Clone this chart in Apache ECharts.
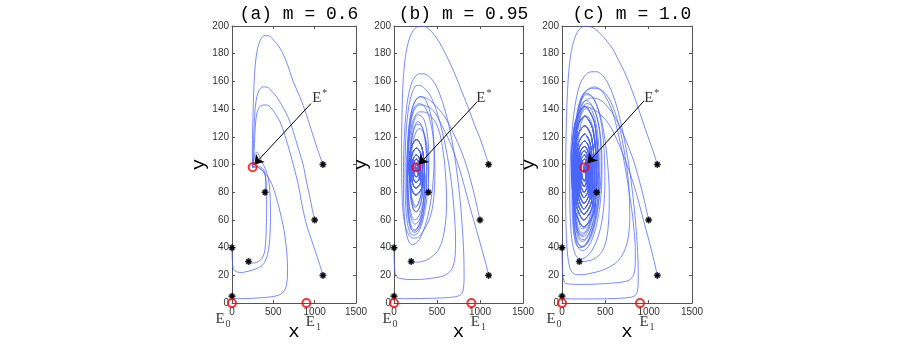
<!DOCTYPE html>
<html>
<head>
<meta charset="utf-8">
<script src="https://cdn.jsdelivr.net/npm/echarts@6/dist/echarts.min.js"></script>
<style>
  html, body { margin: 0; padding: 0; background: #fff; }
  #chart { width: 900px; height: 346px; }
</style>
</head>
<body>
<div id="chart"></div>
<script>
// panel titles
const titles = ['(a) m = 0.6', '(b) m = 0.95', '(c) m = 1.0'];

// initial conditions (black stars)
const starts = [[1100, 100], [1000, 60], [1100, 20], [400, 80], [200, 30], [0, 40], [0, 5]];

// equilibria
const eStar = [[250, 98], [258, 98], [258, 98]];
const e0 = [0, 0];
const e1 = [900, 0];

// ---- (a) m = 0.6 ----
const a1 = [[1100,100],[1040,110],[980,121],[900,136],[820,149],[740,160],[660,174],[580,184],[500,190],[440,193],[390,193],[345,190],[310,184],[285,174],[268,160],[258,143],[250,125],[246,110],[248,101],[250,98]];
const a2 = [[1000,60],[970,68],[940,77],[900,88],[860,100],[800,112],[740,124],[680,134],[620,141],[550,148],[480,153],[420,156],[370,156],[330,154],[300,149],[280,140],[268,128],[260,115],[254,105],[250,98]];
const a3 = [[1100,20],[1060,28],[1010,37],[960,46],[900,57],[850,70],[800,86],[750,98],[700,109],[640,121],[580,131],[520,137],[470,141],[420,143],[380,143],[340,142],[305,138],[285,130],[275,120],[268,110],[260,102],[250,98]];
const a4 = [[400,80],[410,86],[405,92],[385,96],[350,98],[310,99],[280,99],[250,98]];
const a5 = [[200,30],[230,29],[270,29],[320,30],[360,32],[390,36],[405,42],[414,52],[418,64],[419,75],[416,84],[405,91],[380,95],[340,97],[300,98],[270,98],[250,98]];
const a6 = [[0,40],[2,34],[6,29],[15,25],[30,23.5],[60,22.5],[100,22],[160,22.5],[230,23.5],[300,25],[360,27],[400,30],[430,35],[450,42],[462,52],[466,62],[464,72],[456,82],[440,90],[410,96],[370,101],[330,106],[300,109],[280,108],[265,104],[255,100],[250,98]];
const a7 = [[0,5],[8,3.8],[40,3.3],[120,3.2],[250,3.5],[380,4],[480,4.6],[560,5.6],[615,7.5],[650,11],[668,17],[672,25],[666,34],[650,44],[628,53],[600,61],[568,69],[532,77],[495,84],[455,89],[410,93],[360,96],[320,98],[285,99],[262,98.5],[250,98]];

// ---- (b) m = 0.95 ----
const spiralB = [
  [353,96],[326,112],[262,118],[198,112],[175,98],[198,84],[250,78],[326,84],
  [330,96],[310,108],[262,112],[213,108],[195,98],[213,87],[252,83],[310,87],
  [310,96],[295,104.5],[261,107],[225,104.5],[212,98],[225,90],[254,87],[295,90],
  [292,96],[282,102.3],[260,104],[236,102.3],[228,98],[236,93],[256,91],[282,93],
  [278,97],[262,100.5],[246,98],[256,95.5],[262,97.5],[258,98]
];
const b1 = [[1100,100],[1060,108],[1000,119],[940,128],[870,140],[800,151],[730,162],[660,172],[590,181],[520,189],[450,195],[380,199],[320,200],[270,199.5],[225,197],[185,192],[150,184],[125,174],[108,162],[98,148],[92,132],[88,115],[88,98],[92,82],[100,70],[115,61],[140,54],[175,49],[215,47],[260,47],[305,49],[350,53],[395,58],[430,64],[455,72],[470,82],[476,94],[472,106],[460,117],[440,126],[410,134],[375,140],[335,143],[295,144],[260,143],[228,140],[200,134],[180,126],[166,116],[160,104],[160,92],[166,80],[180,70],[205,63],[235,60],[270,61],[305,65],[335,72],[355,82],[362,90]].concat(spiralB);
const b2 = [[1000,60],[978,66],[950,74],[915,83],[872,93],[822,103],[768,112],[710,120],[648,128],[585,135],[520,140],[460,144],[405,147],[355,148.5],[310,149],[272,148],[240,145],[208,140],[182,132],[164,121],[152,108],[146,94],[147,80],[154,69],[168,60],[192,54],[225,52],[262,53],[300,57],[335,64],[362,74],[378,86],[383,98],[378,110],[362,119],[335,126],[300,129],[265,129],[235,126],[210,119],[194,110],[186,98],[188,87],[198,78],[218,72],[245,69],[278,71],[308,77],[332,86],[347,93]].concat(spiralB);
const b3 = [[1100,20],[1070,28],[1030,37],[985,47],[935,58],[880,70],[820,84],[760,97],[695,109],[630,119],[565,127],[500,135],[440,140],[385,142],[335,143],[290,143],[252,141],[220,137],[195,130],[177,120],[166,108],[162,95],[164,82],[172,72],[188,64],[212,59],[242,57],[275,58],[308,62],[336,70],[352,80],[358,90]].concat(spiralB);
const b4 = [[400,80],[402,88],[400,97],[394,106],[382,114],[362,120],[335,124],[302,126],[270,125],[240,121],[215,114],[198,105],[190,95],[193,85],[205,77],[228,72],[258,70],[290,73],[318,79],[338,88],[350,94]].concat(spiralB);
const b5 = [[200,30],[230,29.5],[270,29.5],[320,30],[380,31],[440,33.5],[500,37],[550,43],[585,52],[605,62],[612,74],[604,88],[588,101],[563,113],[530,123],[488,130],[440,134],[390,137],[340,138],[295,138],[255,136],[222,132],[196,125],[176,116],[163,105],[157,93],[158,80],[166,68],[182,60],[205,55],[235,53],[268,54],[302,59],[332,67],[352,78],[358,90]].concat(spiralB);
const b6 = [[0,40],[1,34],[3,29],[8,24],[18,20],[35,18.5],[60,18],[100,17.5],[160,17],[240,17],[330,17.2],[420,17.8],[500,18.5],[570,19.5],[630,21.5],[672,24.5],[698,29],[712,35],[716,44],[712,54],[700,66],[680,80],[650,95],[612,109],[568,122],[518,134],[465,144],[410,151],[355,155],[305,157],[262,157],[225,154],[192,148],[165,139],[145,127],[133,113],[128,98],[129,84],[135,71],[148,61],[168,54],[196,50],[230,49],[268,50],[305,54],[340,61],[370,70],[392,81],[404,93],[406,105],[398,116],[380,125],[352,132],[318,135],[282,136],[250,134],[222,129],[200,121],[186,111],[179,100],[180,89],[188,79],[204,72],[228,67],[258,66],[290,68],[318,74],[340,83],[350,92]].concat(spiralB);
const b7 = [[0,5],[8,3.8],[40,3.3],[150,3.2],[300,3.3],[450,3.5],[580,3.8],[680,4.3],[750,5.2],[790,7],[808,11],[815,18],[814,28],[808,40],[795,54],[775,70],[748,86],[715,102],[675,117],[628,131],[575,143],[518,153],[460,160],[400,164],[345,165.5],[295,165.5],[252,164],[212,160],[178,153],[150,143],[130,130],[117,115],[110,98],[110,82],[116,68],[128,57],[148,49],[176,44],[212,42],[252,43],[295,46],[340,52],[382,60],[418,70],[446,82],[462,95],[466,108],[460,120],[445,130],[420,138],[388,144],[350,148],[310,149],[272,148],[238,145],[208,139],[184,131],[166,120],[155,107],[151,93],[154,79],[163,68],[180,59],[204,53],[235,51],[270,52],[305,56],[336,63],[360,73],[376,84],[380,96],[375,108],[360,118],[336,125],[305,130],[272,131],[242,128],[216,122],[198,113],[188,102],[187,90],[194,80],[210,72],[234,67],[264,66],[296,69],[324,76],[344,86],[352,93]].concat(spiralB);

// ---- (c) m = 1.0 ----
const spiralC = [
  [420,96],[375,130],[262,142],[151,130],[110,98],[151,67],[250,55],[375,67],
  [395,96],[357,125],[262,135],[164,125],[128,98],[164,71],[250,60],[357,71],
  [372,96],[340,120],[262,128],[177,120],[145,98],[177,73.5],[252,64],[340,73.5],
  [352,96],[326,115],[262,122],[187,115],[160,98],[187,76.5],[252,68],[326,76.5],
  [335,96],[313,112],[261,117],[198,112],[175,98],[198,79],[253,72],[313,79],
  [320,96],[303,109],[261,113],[208,109],[188,98],[208,82],[254,76],[303,82],
  [305,96],[292,106.5],[260,110],[216,106.5],[200,98],[216,85],[255,80],[292,85],
  [292,96],[282,104.5],[260,107],[225,104.5],[212,98],[225,88],[256,84],[282,88],
  [282,96],[275,102.3],[260,104],[233,102.3],[224,98],[233,91],[257,88],[275,91],
  [272,96],[262,100],[250,98],[255,94],[262,97],[258,98]
];
const c1 = [[1100,100],[1060,108],[1010,117],[960,126],[900,137],[840,148],[780,158],[720,167],[655,175],[590,183],[520,189],[450,194],[390,197.5],[330,199.5],[275,200],[225,199],[180,196],[140,190],[108,182],[84,171],[67,157],[55,140],[47,121],[42,100],[41,80],[44,62],[52,46],[66,34],[88,26],[120,22],[170,20.5],[240,20.5],[330,21.5],[430,23],[530,25.5],[620,29],[690,34],[740,41],[770,50],[782,61],[780,73],[768,86],[745,99],[712,112],[670,125],[620,136],[565,145],[505,151],[445,154],[390,155],[340,155],[295,154],[255,152],[218,148],[185,141],[158,131],[138,119],[124,105],[117,90],[116,75],[121,62],[132,52],[150,45],[175,41],[208,40],[248,41],[290,44],[334,50],[375,58],[410,68],[436,80],[450,92],[452,104],[445,116],[428,126],[402,134],[370,140],[332,144],[295,146],[262,146],[232,144],[204,139],[180,131],[160,120],[146,107],[139,93],[140,79],[147,67],[160,58],[180,52],[206,49],[238,48],[272,49],[308,53],[343,60],[374,69],[398,80],[414,90]].concat(spiralC);
const c2 = [[1000,60],[978,66],[950,74],[915,83],[872,93],[825,103],[772,112],[715,121],[655,129],[595,136],[535,141],[478,145],[425,147],[375,148],[330,148],[290,147],[252,145],[218,141],[188,135],[165,127],[147,116],[135,104],[129,90],[129,76],[134,64],[144,55],[160,48],[182,43.5],[210,41],[243,40.5],[280,42],[318,45.5],[355,51],[388,59],[414,69],[432,80],[436,90]].concat(spiralC);
const c3 = [[1100,20],[1075,27],[1045,35],[1008,44],[965,54],[918,65],[868,77],[815,88],[760,98],[700,108],[640,117],[580,125],[520,131],[462,135],[408,138],[360,140],[318,141],[280,140.5],[247,139],[218,135.5],[193,130],[172,122],[156,112],[146,100],[141,88],[142,76],[148,66],[159,58],[175,52],[197,48],[224,46],[255,46],[288,48],[322,52],[354,58],[378,66],[392,76],[396,88]].concat(spiralC.slice(8));
const c4 = [[400,80],[404,88],[404,97],[398,107],[386,116],[367,124],[342,130],[312,134],[280,135],[250,134],[222,130],[198,123],[180,114],[168,103],[163,91],[165,79],[173,69],[187,61],[207,56],[232,53.5],[262,54],[294,57],[325,63],[350,71],[366,80],[372,90]].concat(spiralC.slice(16));
const c5 = [[200,30],[240,30],[300,30.5],[360,31.5],[420,34],[470,38],[505,44],[528,52],[541,62],[546,74],[542,86],[530,98],[512,110],[488,121],[460,131],[425,139],[388,145],[350,149],[312,151],[276,151.5],[243,150],[214,146],[188,140],[166,131],[149,120],[136,107],[129,93],[128,79],[133,66],[143,56],[158,49],[180,44],[208,41.5],[240,41],[275,42.5],[312,46],[348,52],[380,60],[405,70],[420,81],[424,91]].concat(spiralC);
const c6 = [[0,40],[1,34],[3,28],[7,22],[15,17.5],[30,15],[55,14],[100,13.7],[180,13.5],[280,13.5],[380,13.7],[480,14],[570,14.4],[650,14.8],[720,15.5],[775,16.5],[815,19],[838,23],[846,30],[845,40],[832,52],[810,65],[780,78],[745,92],[705,106],[662,119],[615,131],[565,141],[512,148],[460,153],[410,155.5],[362,156],[318,155],[278,153],[245,150],[212,145],[184,138],[160,129],[141,117],[129,104],[123,89],[123,75],[128,63],[139,53],[156,46],[180,41],[210,38.5],[246,38],[285,39.5],[325,43],[365,49],[401,57],[430,67],[450,78],[460,90],[461,102],[454,113],[440,123],[418,131],[390,137],[357,141],[322,143.5],[288,144],[256,143],[227,140],[200,134],[178,126],[161,116],[150,104],[145,91],[146,78],[152,67],[164,59],[182,53],[205,50],[232,49],[262,50],[295,53],[328,58],[358,65],[383,74],[402,84],[414,93]].concat(spiralC);
const c7 = [[0,5],[8,3.8],[40,3.2],[150,3],[300,3],[450,3.1],[600,3.3],[720,3.7],[800,4.3],[845,5.5],[868,8],[878,13],[880,22],[875,34],[862,48],[842,63],[815,79],[780,96],[738,112],[690,127],[636,141],[578,152],[518,160],[458,165],[400,167],[345,167],[295,166],[250,163],[208,158],[172,150],[142,139],[118,125],[101,110],[92,94],[90,78],[94,64],[104,52],[120,43],[143,37],[175,33],[215,32],[260,32.5],[308,35],[355,39],[400,45],[440,53],[470,63],[488,75],[495,88],[492,102],[480,115],[460,127],[432,136],[398,143],[360,148],[320,150],[282,150.5],[248,149],[218,145],[192,138],[170,129],[153,117],[142,104],[136,90],[137,76],[144,64],[157,55],[177,49],[202,45.5],[235,44.5],[270,45.5],[308,49],[345,55],[378,63],[404,73],[422,84],[430,96],[428,108],[418,118],[400,127],[375,134],[345,139],[312,141.5],[280,142],[250,140.5],[222,137],[198,131],[177,122],[161,111],[151,99],[148,86],[152,74],[162,64],[178,57],[200,52.5],[228,50.5],[260,51],[295,54],[328,60],[357,68],[380,78],[395,88]].concat(spiralC.slice(8));

const panels = [
  { trajs: [a1, a2, a3, a4, a5, a6, a7], arrow: [[955, 144], [270, 100]], label: [1062, 148], e0dx: -9 },
  { trajs: [b1, b2, b3, b4, b5, b6, b7], arrow: [[963, 145], [289, 100]], label: [1045, 148], e0dx: -4 },
  { trajs: [c1, c2, c3, c4, c5, c6, c7], arrow: [[947, 146], [295, 101]], label: [1036, 148], e0dx: -8 }
];

const grids = [
  { left: 232, top: 26, width: 124, height: 281 },
  { left: 394, top: 26, width: 129, height: 281 },
  { left: 562, top: 26, width: 130, height: 281 }
];

const boxColor = '#555';
const mono = '"Liberation Mono", "DejaVu Sans Mono", monospace';
const serif = '"Liberation Serif", "DejaVu Serif", serif';
const starPath = 'path://M5 0L5 10M0 5L10 5M1.6 1.6L8.4 8.4M8.4 1.6L1.6 8.4';

const xAxes = [], yAxes = [], series = [], titleList = [];
grids.forEach((g, i) => {
  const axLine = { onZero: false, lineStyle: { color: boxColor, width: 1 } };
  const tick = { inside: true, length: 3, lineStyle: { color: boxColor } };
  xAxes.push({
    gridIndex: i, type: 'value', min: 0, max: 1500, interval: 500, position: 'bottom',
    name: 'x', nameLocation: 'middle', nameGap: 10,
    nameTextStyle: { fontFamily: mono, fontSize: 19, color: '#000' },
    axisLine: axLine, axisTick: tick, splitLine: { show: false },
    axisLabel: { fontFamily: 'Liberation Sans', fontSize: 10, color: '#333', margin: 4, formatter: v => String(v) }
  });
  xAxes.push({
    gridIndex: i, type: 'value', min: 0, max: 1500, interval: 500, position: 'top',
    axisLine: axLine, axisTick: tick, splitLine: { show: false }, axisLabel: { show: false }
  });
  yAxes.push({
    gridIndex: i, type: 'value', min: 0, max: 200, interval: 20, position: 'left',
    name: 'y', nameLocation: 'middle', nameGap: 17,
    nameTextStyle: { fontFamily: mono, fontSize: 19, color: '#000' },
    axisLine: axLine, axisTick: tick, splitLine: { show: false },
    axisLabel: { fontFamily: 'Liberation Sans', fontSize: 10, color: '#333', margin: 3 }
  });
  yAxes.push({
    gridIndex: i, type: 'value', min: 0, max: 200, interval: 20, position: 'right',
    axisLine: axLine, axisTick: tick, splitLine: { show: false }, axisLabel: { show: false }
  });

  titleList.push({
    text: titles[i], left: g.left + g.width / 2, top: 0, textAlign: 'center',
    textStyle: { fontFamily: mono, fontSize: 18, fontWeight: 'normal', color: '#000' }
  });

  const p = panels[i];
  const ax = { xAxisIndex: 2 * i, yAxisIndex: 2 * i };

  // trajectories
  p.trajs.forEach(t => {
    series.push(Object.assign({
      type: 'line', data: t, showSymbol: false, smooth: 0.3, silent: true,
      lineStyle: { color: '#4a66ff', width: 0.75 }, z: 2
    }, ax));
  });

  // initial points: a dark dot with an asterisk over it
  series.push(Object.assign({
    type: 'scatter', data: starts, symbol: 'circle', symbolSize: 4, silent: true,
    itemStyle: { color: '#000' }, z: 4
  }, ax));
  series.push(Object.assign({
    type: 'scatter', data: starts, symbol: starPath, symbolSize: 7, silent: true,
    itemStyle: { color: '#000', borderColor: '#000', borderWidth: 1.6 }, z: 4
  }, ax));

  // arrow + E* label
  series.push(Object.assign({
    type: 'scatter', silent: true, symbolSize: 1, itemStyle: { color: 'rgba(0,0,0,0)' },
    data: [{ value: p.label }],
    label: {
      show: true, position: 'inside', formatter: '{e|E}{s|*}',
      rich: {
        e: { fontFamily: serif, fontSize: 15, color: '#000' },
        s: { fontFamily: serif, fontSize: 10, color: '#000', padding: [0, 0, 10, 1] }
      }
    },
    markLine: {
      silent: true, symbol: ['none', 'arrow'], symbolSize: 9,
      lineStyle: { color: '#000', width: 1, type: 'solid' },
      label: { show: false },
      data: [[{ coord: p.arrow[0] }, { coord: p.arrow[1] }]]
    }, z: 5
  }, ax));

  // equilibria (red circles)
  const eLab = (txt, dx, dy) => ({
    show: true, position: 'inside', offset: [dx, dy], formatter: '{e|E}{s|' + txt + '}',
    rich: {
      e: { fontFamily: serif, fontSize: 15, color: '#000' },
      s: { fontFamily: serif, fontSize: 10, color: '#000', padding: [11, 0, 0, 1] }
    }
  });
  series.push(Object.assign({
    type: 'scatter', silent: true, clip: false, symbol: 'circle', symbolSize: 8,
    itemStyle: { color: 'rgba(0,0,0,0)', borderColor: '#ff0000', borderWidth: 2 },
    data: [
      { value: eStar[i] },
      { value: e0, label: eLab('0', p.e0dx, 16) },
      { value: e1, label: eLab('1', 7, 19) }
    ], z: 6
  }, ax));
});

const chart = echarts.init(document.getElementById('chart'));
chart.setOption({
  animation: false,
  backgroundColor: '#fff',
  title: titleList,
  grid: grids,
  xAxis: xAxes,
  yAxis: yAxes,
  series: series
});
</script>
</body>
</html>
